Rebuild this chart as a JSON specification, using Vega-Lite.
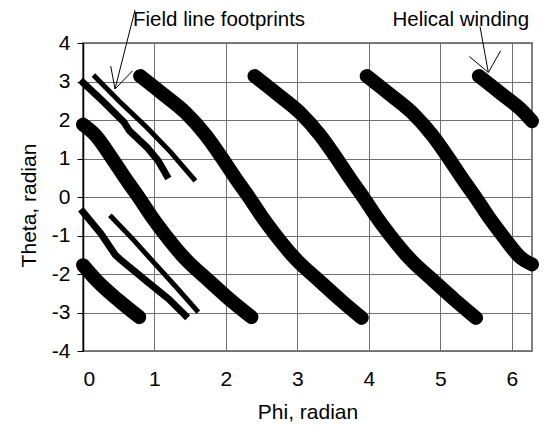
{
  "$schema": "https://vega.github.io/schema/vega-lite/v6.json",
  "width": 449,
  "height": 308,
  "autosize": "none",
  "padding": {"left": 83, "top": 43, "right": 13, "bottom": 79},
  "background": "white",
  "config": {
    "font": "Liberation Sans",
    "view": {"stroke": "#808080", "strokeWidth": 2},
    "axis": {"labelFont": "Liberation Sans", "titleFont": "Liberation Sans", "labelColor": "black", "titleColor": "black", "titleFontWeight": "normal", "labelFontSize": 21, "titleFontSize": 21, "gridColor": "#707070", "gridWidth": 1, "gridOpacity": 1, "labelOverlap": false}
  },
  "datasets": {
    "helix": [
      {"seg": "A", "phi": 0.80, "theta": 3.14}, {"seg": "A", "phi": 1.10, "theta": 2.7}, {"seg": "A", "phi": 1.43, "theta": 2.2}, {"seg": "A", "phi": 1.72, "theta": 1.6}, {"seg": "A", "phi": 1.95, "theta": 1.0}, {"seg": "A", "phi": 2.13, "theta": 0.5}, {"seg": "A", "phi": 2.32, "theta": 0.0}, {"seg": "A", "phi": 2.50, "theta": -0.5}, {"seg": "A", "phi": 2.70, "theta": -1.0}, {"seg": "A", "phi": 2.97, "theta": -1.6}, {"seg": "A", "phi": 3.32, "theta": -2.2}, {"seg": "A", "phi": 3.62, "theta": -2.7}, {"seg": "A", "phi": 3.90, "theta": -3.14},
      {"seg": "B", "phi": 2.40, "theta": 3.14}, {"seg": "B", "phi": 2.70, "theta": 2.7}, {"seg": "B", "phi": 3.03, "theta": 2.2}, {"seg": "B", "phi": 3.32, "theta": 1.6}, {"seg": "B", "phi": 3.55, "theta": 1.0}, {"seg": "B", "phi": 3.73, "theta": 0.5}, {"seg": "B", "phi": 3.92, "theta": 0.0}, {"seg": "B", "phi": 4.10, "theta": -0.5}, {"seg": "B", "phi": 4.30, "theta": -1.0}, {"seg": "B", "phi": 4.57, "theta": -1.6}, {"seg": "B", "phi": 4.92, "theta": -2.2}, {"seg": "B", "phi": 5.22, "theta": -2.7}, {"seg": "B", "phi": 5.50, "theta": -3.14},
      {"seg": "C1", "phi": 3.97, "theta": 3.14}, {"seg": "C1", "phi": 4.27, "theta": 2.7}, {"seg": "C1", "phi": 4.60, "theta": 2.2}, {"seg": "C1", "phi": 4.89, "theta": 1.6}, {"seg": "C1", "phi": 5.12, "theta": 1.0}, {"seg": "C1", "phi": 5.30, "theta": 0.5}, {"seg": "C1", "phi": 5.49, "theta": 0.0}, {"seg": "C1", "phi": 5.67, "theta": -0.5}, {"seg": "C1", "phi": 5.87, "theta": -1.0}, {"seg": "C1", "phi": 6.14, "theta": -1.6}, {"seg": "C1", "phi": 6.283, "theta": -1.75},
      {"seg": "C2", "phi": 0.0, "theta": -1.77}, {"seg": "C2", "phi": 0.207, "theta": -2.2}, {"seg": "C2", "phi": 0.507, "theta": -2.7}, {"seg": "C2", "phi": 0.787, "theta": -3.12},
      {"seg": "D1", "phi": 5.54, "theta": 3.14}, {"seg": "D1", "phi": 5.84, "theta": 2.7}, {"seg": "D1", "phi": 6.17, "theta": 2.2}, {"seg": "D1", "phi": 6.283, "theta": 1.97},
      {"seg": "D2", "phi": 0.0, "theta": 1.88}, {"seg": "D2", "phi": 0.177, "theta": 1.6}, {"seg": "D2", "phi": 0.407, "theta": 1.0}, {"seg": "D2", "phi": 0.587, "theta": 0.5}, {"seg": "D2", "phi": 0.777, "theta": 0.0}, {"seg": "D2", "phi": 0.957, "theta": -0.5}, {"seg": "D2", "phi": 1.157, "theta": -1.0}, {"seg": "D2", "phi": 1.427, "theta": -1.6}, {"seg": "D2", "phi": 1.777, "theta": -2.2}, {"seg": "D2", "phi": 2.077, "theta": -2.7}, {"seg": "D2", "phi": 2.357, "theta": -3.12}
    ],
    "thin": [
      {"seg": "F1", "phi": 0.17, "theta": 3.12}, {"seg": "F1", "phi": 0.5, "theta": 2.5}, {"seg": "F1", "phi": 0.89, "theta": 1.81}, {"seg": "F1", "phi": 1.22, "theta": 1.18}, {"seg": "F1", "phi": 1.55, "theta": 0.47},
      {"seg": "F3", "phi": 0.40, "theta": -0.52}, {"seg": "F3", "phi": 0.7, "theta": -1.1}, {"seg": "F3", "phi": 0.99, "theta": -1.7}, {"seg": "F3", "phi": 1.3, "theta": -2.33}, {"seg": "F3", "phi": 1.59, "theta": -2.94}
    ],
    "dotted": [
      {"seg": "F2", "phi": 0.0, "theta": 2.97}, {"seg": "F2", "phi": 0.3, "theta": 2.45}, {"seg": "F2", "phi": 0.57, "theta": 1.95}, {"seg": "F2", "phi": 0.65, "theta": 1.72}, {"seg": "F2", "phi": 0.9, "theta": 1.28}, {"seg": "F2", "phi": 1.05, "theta": 0.95}, {"seg": "F2", "phi": 1.17, "theta": 0.56},
      {"seg": "F4", "phi": 0.0, "theta": -0.39}, {"seg": "F4", "phi": 0.25, "theta": -0.95}, {"seg": "F4", "phi": 0.45, "theta": -1.5}, {"seg": "F4", "phi": 0.52, "theta": -1.62}, {"seg": "F4", "phi": 0.9, "theta": -2.2}, {"seg": "F4", "phi": 1.2, "theta": -2.65}, {"seg": "F4", "phi": 1.43, "theta": -3.07}
    ],
    "arrows": [
      {"phi": 0.728, "theta": 4.857, "phi2": 0.448, "theta2": 2.805},
      {"phi": 0.388, "theta": 3.40, "phi2": 0.448, "theta2": 2.805},
      {"phi": 0.695, "theta": 3.28, "phi2": 0.448, "theta2": 2.805},
      {"phi": 5.556, "theta": 4.423, "phi2": 5.672, "theta2": 3.234},
      {"phi": 5.406, "theta": 3.649, "phi2": 5.672, "theta2": 3.234},
      {"phi": 5.845, "theta": 3.80, "phi2": 5.672, "theta2": 3.234}
    ],
    "labels": [
      {"label": "Field line footprints", "phi": 0.70, "theta": 4.44},
      {"label": "Helical winding", "phi": 4.33, "theta": 4.44}
    ]
  },
  "encoding": {
    "x": {"field": "phi", "type": "quantitative", "scale": {"domain": [0, 6.2832], "nice": false, "zero": false},
      "axis": {"values": [0, 1, 2, 3, 4, 5, 6], "title": "Phi, radian", "grid": true, "ticks": false, "domain": false, "labelPadding": 17, "titlePadding": 12, "labelOverlap": false, "labelExpr": "datum.value + ''"}},
    "y": {"field": "theta", "type": "quantitative", "scale": {"domain": [-4, 4], "nice": false, "zero": false},
      "axis": {"values": [-4, -3, -2, -1, 0, 1, 2, 3, 4], "title": "Theta, radian", "grid": true, "ticks": true, "tickSize": 6, "tickColor": "black", "domain": true, "domainColor": "black", "domainWidth": 1.5, "labelPadding": 7, "titlePadding": 12, "titleY": 162, "labelOverlap": false, "labelBound": false, "labelExpr": "datum.value + ''"}}
  },
  "layer": [
    {
      "data": {"name": "helix"},
      "mark": {"type": "line", "color": "black", "strokeWidth": 14, "strokeCap": "round", "strokeJoin": "round", "interpolate": "monotone", "clip": false},
      "encoding": {
        "detail": {"field": "seg", "type": "nominal"}
      }
    },
    {
      "data": {"name": "thin"},
      "mark": {"type": "line", "color": "black", "strokeWidth": 5, "strokeCap": "square"},
      "encoding": {
        "detail": {"field": "seg", "type": "nominal"}
      }
    },
    {
      "data": {"name": "dotted"},
      "mark": {"type": "line", "color": "black", "strokeWidth": 7, "strokeCap": "square"},
      "encoding": {
        "detail": {"field": "seg", "type": "nominal"}
      }
    },
    {
      "data": {"name": "arrows"},
      "mark": {"type": "rule", "color": "black", "strokeWidth": 1},
      "encoding": {
        "x2": {"field": "phi2"},
        "y2": {"field": "theta2"}
      }
    },
    {
      "data": {"name": "labels"},
      "mark": {"type": "text", "align": "left", "baseline": "alphabetic", "fontSize": 20.5, "font": "Liberation Sans", "color": "black"},
      "encoding": {
        "text": {"field": "label", "type": "nominal"}
      }
    }
  ]
}
